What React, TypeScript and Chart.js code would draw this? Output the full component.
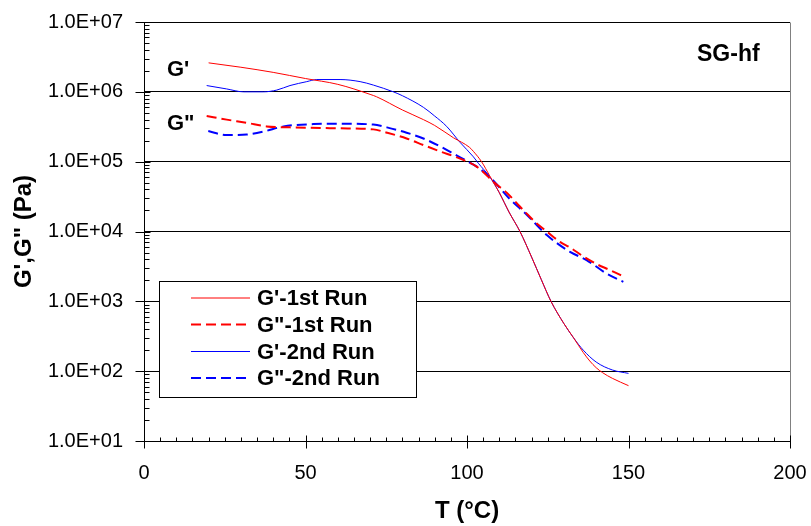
import React, { useEffect, useRef } from "react";
import { Chart, registerables } from "chart.js";

Chart.register(...registerables);

// G' 1st run (red solid)
const g1StorageT = [20, 30, 40, 50, 60, 70, 72, 80, 86.5, 90, 95.8, 100.8, 102, 104.5, 107, 110, 113, 116.4, 120, 123, 126, 130, 133, 136, 138, 140, 142, 145, 150];
const g1StorageG = [2.6e6, 2.25e6, 1.9e6, 1.55e6, 1.28e6, 9.2e5, 8.5e5, 5.5e5, 4.0e5, 3.3e5, 2.2e5, 1.6e5, 1.4e5, 1.0e5, 6.3e4, 3.6e4, 1.9e4, 1.0e4, 4.3e3, 2.05e3, 1.0e3, 480, 300, 185, 140, 112, 95, 79, 62];

// G'' 1st run (red dashed)
const g1LossT = [19.4, 25.6, 31.8, 38, 45.2, 60.7, 71, 75.2, 81.3, 86.5, 91.7, 96.9, 100, 103, 108.7, 112.3, 115.9, 118.5, 121.6, 124.7, 128.8, 131.9, 136, 140.2, 144.3, 149];
const g1LossG = [4.5e5, 4.0e5, 3.6e5, 3.2e5, 3.1e5, 3.0e5, 2.9e5, 2.6e5, 2.15e5, 1.73e5, 1.4e5, 1.15e5, 1.0e5, 8.5e4, 4.9e4, 3.6e4, 2.4e4, 1.8e4, 1.3e4, 1.0e4, 7.1e3, 5.9e3, 4.4e3, 3.4e3, 2.8e3, 2.2e3];

// G' 2nd run (blue solid)
const g2StorageT = [19.4, 25.6, 30.8, 37, 41.1, 45.2, 50.4, 53.5, 60.7, 66.9, 71, 77.2, 80, 86.5, 90, 93.7, 97.8, 102, 103.5, 107, 110, 113, 116.4, 120, 123, 126, 130, 133, 136, 140, 145, 150];
const g2StorageG = [1.23e6, 1.1e6, 1.0e6, 1.0e6, 1.06e6, 1.23e6, 1.4e6, 1.5e6, 1.5e6, 1.4e6, 1.25e6, 1.0e6, 8.8e5, 6.0e5, 4.5e5, 3.2e5, 1.9e5, 1.17e5, 9.5e4, 6.1e4, 3.6e4, 1.9e4, 1.0e4, 4.3e3, 2.05e3, 1.0e3, 480, 300, 200, 135, 104, 93];

// G'' 2nd run (blue dashed)
const g2LossT = [19.9, 25.6, 31.8, 37, 43.2, 52.5, 60.7, 71, 75.2, 81.3, 86.5, 91.7, 96.9, 100, 103, 107.1, 113.3, 118.5, 124.7, 131.9, 137, 143.2, 148.4];
const g2LossG = [2.75e5, 2.4e5, 2.45e5, 2.7e5, 3.2e5, 3.45e5, 3.5e5, 3.4e5, 3.1e5, 2.6e5, 2.15e5, 1.65e5, 1.22e5, 1.02e5, 8.5e4, 6.0e4, 2.9e4, 1.74e4, 8.9e3, 5.1e3, 3.9e3, 2.5e3, 1.9e3];

const seriesLabels = ["G'-1st Run", 'G"-1st Run', "G'-2nd Run", 'G"-2nd Run'];
const xTicks = [0, 50, 100, 150, 200];
const yTicks = [1e1, 1e2, 1e3, 1e4, 1e5, 1e6, 1e7];

const FONT = "'Liberation Sans', Arial, sans-serif";

const toPoints = (xs: number[], ys: number[]) => xs.map((x, i) => ({ x, y: ys[i] }));

const fmtExp = (v: number) => {
  const e = Math.round(Math.log10(v));
  return "1.0E+" + String(e).padStart(2, "0");
};

const decorPlugin = {
  id: "decor",
  afterDraw(chart: any) {
    const { ctx, chartArea, scales } = chart;
    const xs = scales.x;
    const ys = scales.y;
    const L = Math.round(chartArea.left) + 0.5;
    const R = Math.round(chartArea.right) + 0.5;
    const T = Math.round(chartArea.top) + 0.5;
    const B = Math.round(chartArea.bottom) + 0.5;
    ctx.save();
    // right border
    ctx.strokeStyle = "#808080";
    ctx.lineWidth = 1;
    ctx.beginPath();
    ctx.moveTo(R, T);
    ctx.lineTo(R, B);
    ctx.stroke();
    // axes
    ctx.strokeStyle = "#000";
    ctx.beginPath();
    ctx.moveTo(L, T);
    ctx.lineTo(L, B);
    ctx.moveTo(L, B);
    ctx.lineTo(R, B);
    ctx.stroke();
    // y ticks
    for (let d = 1; d <= 7; d++) {
      const y = Math.round(ys.getPixelForValue(Math.pow(10, d))) + 0.5;
      ctx.beginPath();
      ctx.moveTo(L - 9, y);
      ctx.lineTo(L + 6, y);
      ctx.stroke();
      if (d < 7) {
        for (let m = 2; m <= 9; m++) {
          const ym = Math.round(ys.getPixelForValue(m * Math.pow(10, d))) + 0.5;
          ctx.beginPath();
          ctx.moveTo(L, ym);
          ctx.lineTo(L + 5, ym);
          ctx.stroke();
        }
      }
    }
    // x ticks
    for (let v = 0; v <= 200; v += 5) {
      const x = Math.round(xs.getPixelForValue(v)) + 0.5;
      ctx.beginPath();
      if (v % 50 === 0) {
        ctx.moveTo(x, B - 6);
        ctx.lineTo(x, B + 7);
      } else {
        ctx.moveTo(x, B - 4);
        ctx.lineTo(x, B);
      }
      ctx.stroke();
    }
    // annotations
    ctx.fillStyle = "#000";
    ctx.textBaseline = "middle";
    ctx.textAlign = "left";
    ctx.font = `bold 22px ${FONT}`;
    ctx.fillText("G'", 167, 70);
    ctx.fillText('G"', 167, 124);
    ctx.font = `bold 23px ${FONT}`;
    ctx.fillText("SG-hf", 697, 55);
    // legend
    const bx = 159.5, by = 281.5, bw = 257, bh = 116;
    ctx.fillStyle = "#fff";
    ctx.fillRect(bx, by, bw, bh);
    ctx.strokeStyle = "#000";
    ctx.lineWidth = 1;
    ctx.strokeRect(bx, by, bw, bh);
    const rows = [298, 324.5, 351.5, 378];
    chart.data.datasets.forEach((ds: any, i: number) => {
      const y = rows[i];
      ctx.save();
      ctx.strokeStyle = ds.borderColor;
      ctx.lineWidth = ds.borderWidth;
      ctx.setLineDash(ds.borderDash || []);
      ctx.beginPath();
      ctx.moveTo(191, y);
      ctx.lineTo(250, y);
      ctx.stroke();
      ctx.restore();
      ctx.fillStyle = "#000";
      ctx.font = `bold 22px ${FONT}`;
      ctx.textBaseline = "middle";
      ctx.fillText(ds.label, 257, y + 1);
    });
    ctx.restore();
  },
};

export default function App() {
  const ref = useRef<HTMLCanvasElement | null>(null);
  useEffect(() => {
    document.body.style.margin = "0";
    const canvas = ref.current!;
    const mk = (label: string, xs: number[], ys: number[], color: string, dashed: boolean) => ({
      label,
      data: toPoints(xs, ys),
      borderColor: color,
      backgroundColor: color,
      borderWidth: dashed ? 2 : 1,
      borderDash: dashed ? [10, 5] : [],
      showLine: true,
      pointRadius: 0,
      cubicInterpolationMode: "monotone" as const,
      fill: false,
    });
    const chart = new Chart(canvas, {
      type: "scatter",
      data: {
        datasets: [
          mk(seriesLabels[0], g1StorageT, g1StorageG, "#ff0000", false),
          mk(seriesLabels[1], g1LossT, g1LossG, "#ff0000", true),
          mk(seriesLabels[2], g2StorageT, g2StorageG, "#0000ff", false),
          mk(seriesLabels[3], g2LossT, g2LossG, "#0000ff", true),
        ],
      },
      options: {
        animation: false,
        responsive: false,
        devicePixelRatio: 1,
        layout: { padding: { top: 22, right: 21, left: 0, bottom: 0 } },
        plugins: { legend: { display: false }, tooltip: { enabled: false } },
        scales: {
          x: {
            type: "linear",
            min: 0,
            max: 200,
            afterFit: (s: any) => {
              s.height = 85;
              s.paddingLeft = 0;
              s.paddingRight = 0;
            },
            afterBuildTicks: (s: any) => { s.ticks = xTicks.map((v) => ({ value: v })); },
            grid: { display: false, drawTicks: false },
            border: { display: false },
            ticks: {
              padding: 20,
              color: "#000",
              font: { family: FONT, size: 20 },
              maxRotation: 0,
            },
            title: {
              display: true,
              text: "T (°C)",
              color: "#000",
              font: { family: FONT, size: 24, weight: "bold" },
              padding: { top: 0, bottom: 0 },
            },
          },
          y: {
            type: "logarithmic",
            min: 1e1,
            max: 1e7,
            afterFit: (s: any) => {
              s.width = 144;
              s.paddingTop = 0;
              s.paddingBottom = 0;
            },
            afterBuildTicks: (s: any) => { s.ticks = yTicks.map((v) => ({ value: v })); },
            grid: { color: "#000", lineWidth: 1, drawTicks: false },
            border: { display: false },
            ticks: {
              padding: 21,
              color: "#000",
              font: { family: FONT, size: 20 },
              callback: (v: any) => fmtExp(Number(v)),
            },
            title: {
              display: true,
              text: 'G\',G" (Pa)',
              color: "#000",
              font: { family: FONT, size: 24, weight: "bold" },
              padding: { top: 10, bottom: 0 },
            },
          },
        },
      },
      plugins: [decorPlugin],
    });
    return () => chart.destroy();
  }, []);
  return (
    <div style={{ width: 811, height: 526, background: "#fff" }}>
      <canvas ref={ref} width={811} height={526} style={{ display: "block" }} />
    </div>
  );
}
